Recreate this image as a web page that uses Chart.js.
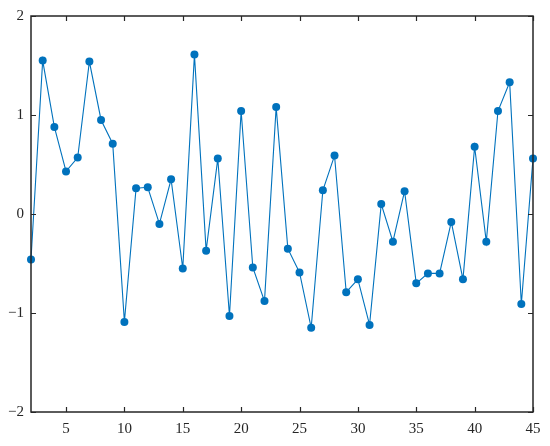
<!DOCTYPE html>
<html>
<head>
<meta charset="utf-8">
<script src="https://cdn.jsdelivr.net/npm/chart.js@4/dist/chart.umd.min.js"></script>
<style>
html,body{margin:0;padding:0;background:#fff;}
#wrap{width:550px;height:446px;position:relative;}
</style>
</head>
<body>
<div id="wrap"><canvas id="c" width="550" height="446"></canvas></div>
<script>
const xValues = [2,3,4,5,6,7,8,9,10,11,12,13,14,15,16,17,18,19,20,21,22,23,24,25,26,27,28,29,30,31,32,33,34,35,36,37,38,39,40,41,42,43,44,45];
const yValues = [-0.46,1.55,0.88,0.43,0.57,1.54,0.95,0.71,-1.09,0.26,0.27,-0.10,0.35,-0.55,1.61,-0.37,0.56,-1.03,1.04,-0.54,-0.88,1.08,-0.35,-0.59,-1.15,0.24,0.59,-0.79,-0.66,-1.12,0.10,-0.28,0.23,-0.70,-0.60,-0.60,-0.08,-0.66,0.68,-0.28,1.04,1.33,-0.91,0.56];
const xTicks = [5,10,15,20,25,30,35,40,45];
const yTicks = [-2,-1,0,1,2];

const axisColor = '#262626';
const lineColor = '#0072BD';

const boxTicks = {
  id: 'boxTicks',
  afterDraw(chart) {
    const ctx = chart.ctx, a = chart.chartArea;
    const xs = chart.scales.x, ys = chart.scales.y;
    ctx.save();
    ctx.strokeStyle = axisColor;
    ctx.lineWidth = 1.5;
    ctx.strokeRect(a.left, a.top, a.right - a.left, a.bottom - a.top);
    ctx.lineWidth = 1.2;
    const L = 5;
    ctx.beginPath();
    xTicks.forEach(v => {
      const px = Math.round(xs.getPixelForValue(v)) + 0.5;
      ctx.moveTo(px, a.bottom); ctx.lineTo(px, a.bottom - L);
      ctx.moveTo(px, a.top); ctx.lineTo(px, a.top + L);
    });
    yTicks.forEach(v => {
      const py = Math.round(ys.getPixelForValue(v)) + 0.5;
      ctx.moveTo(a.left, py); ctx.lineTo(a.left + L, py);
      ctx.moveTo(a.right, py); ctx.lineTo(a.right - L, py);
    });
    ctx.stroke();
    ctx.restore();
  }
};

new Chart(document.getElementById('c'), {
  type: 'line',
  data: {
    datasets: [{
      data: xValues.map((x, i) => ({x: x, y: yValues[i]})),
      borderColor: lineColor,
      backgroundColor: lineColor,
      borderWidth: 1.1,
      pointRadius: 4,
      pointBorderWidth: 0,
      pointBackgroundColor: lineColor,
      tension: 0,
      clip: false
    }]
  },
  options: {
    responsive: false,
    animation: false,
    layout: {padding: {left: 0, right: 17, top: 16, bottom: 0}},
    plugins: {legend: {display: false}, tooltip: {enabled: false}},
    scales: {
      x: {
        type: 'linear', min: 2, max: 45,
        afterBuildTicks: s => { s.ticks = xTicks.map(v => ({value: v})); },
        afterFit: s => { s.height = 34; },
        grid: {display: false, drawTicks: false},
        border: {display: false},
        ticks: {
          padding: 8, color: axisColor, maxRotation: 0, autoSkip: false,
          font: {family: 'Liberation Serif', size: 15}
        }
      },
      y: {
        type: 'linear', min: -2, max: 2,
        afterBuildTicks: s => { s.ticks = yTicks.map(v => ({value: v})); },
        afterFit: s => { s.width = 31; },
        grid: {display: false, drawTicks: false},
        border: {display: false},
        ticks: {
          padding: 7, color: axisColor,
          font: {family: 'Liberation Serif', size: 15},
          callback: v => (v < 0 ? '\u2212' + Math.abs(v) : String(v))
        }
      }
    }
  },
  plugins: [boxTicks]
});
</script>
</body>
</html>
